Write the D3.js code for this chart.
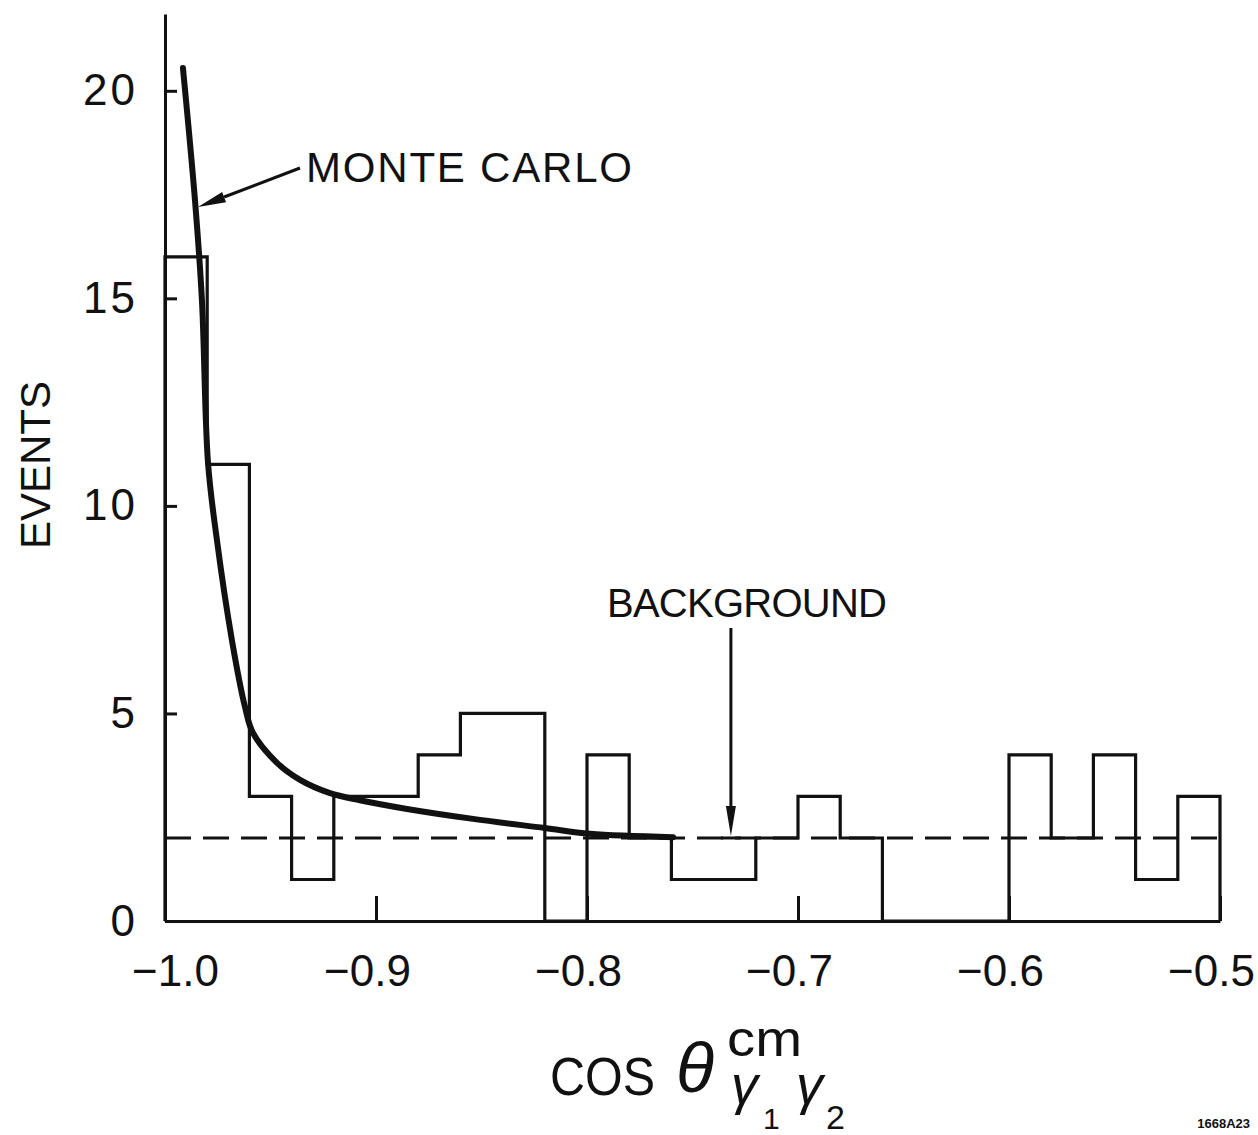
<!DOCTYPE html>
<html>
<head>
<meta charset="utf-8">
<script src="https://cdn.jsdelivr.net/npm/d3@7"></script>
<style>
  html, body { margin: 0; padding: 0; background: #fff; }
  svg { display: block; }
  text { font-family: "Liberation Sans", "DejaVu Sans", sans-serif; fill: #111; }
</style>
</head>
<body>
<svg id="chart" width="1258" height="1135"></svg>
<script>
// ---------------- data ----------------
const binLow = [-1.00, -0.98, -0.96, -0.94, -0.92, -0.90, -0.88, -0.86, -0.84, -0.82,
                -0.80, -0.78, -0.76, -0.74, -0.72, -0.70, -0.68, -0.66, -0.64, -0.62,
                -0.60, -0.58, -0.56, -0.54, -0.52];
const binHigh = [-0.98, -0.96, -0.94, -0.92, -0.90, -0.88, -0.86, -0.84, -0.82, -0.80,
                 -0.78, -0.76, -0.74, -0.72, -0.70, -0.68, -0.66, -0.64, -0.62, -0.60,
                 -0.58, -0.56, -0.54, -0.52, -0.50];
const events = [16, 11, 3, 1, 3, 3, 4, 5, 5, 0,
                4, 2, 1, 1, 2, 3, 2, 0, 0, 0,
                4, 2, 4, 1, 3];

const mcX = [-0.9915, -0.9858, -0.9825, -0.9796, -0.9754, -0.9683, -0.9621, -0.9583,
             -0.9469, -0.9360, -0.9218, -0.9076, -0.8853, -0.8540, -0.8200, -0.7986, -0.7592];
const mcY = [20.55, 17.37, 14.96, 11.03, 9.18, 6.77, 5.16, 4.53,
             3.81, 3.40, 3.08, 2.91, 2.70, 2.46, 2.24, 2.10, 2.02];

const bgX = [-1.0, -0.5];
const bgY = [2, 2];

const xTicks = [-1.0, -0.9, -0.8, -0.7, -0.6, -0.5];
const xTickLabels = ["\u22121.0", "\u22120.9", "\u22120.8", "\u22120.7", "\u22120.6", "\u22120.5"];
const yTicks = [0, 5, 10, 15, 20];
const yTickLabels = ["0", "5", "10", "15", "20"];

const yLabel = "EVENTS";
const mcLabel = "MONTE CARLO";
const bgLabel = "BACKGROUND";
const mcArrowAt = [-0.9858, 17.2];
const bgArrowAt = [-0.7318, 2];
const figId = "1668A23";

// ---------------- scales ----------------
const svg = d3.select("#chart");
const x = d3.scaleLinear().domain([-1.0, -0.5]).range([165, 1220]);
const y = d3.scaleLinear().domain([0, 21.85]).range([921, 14]);

const ink = "#111";

// ---------------- axes ----------------
const yAxis = d3.axisLeft(y)
  .tickValues(yTicks)
  .tickSizeInner(-12)
  .tickSizeOuter(0)
  .tickPadding(27)
  .tickFormat((d, i) => yTickLabels[i]);
const gy = svg.append("g").attr("transform", `translate(${x(-1.0)},0)`).call(yAxis);
gy.select(".domain").attr("stroke", ink).attr("stroke-width", 3);
gy.selectAll(".tick line").attr("stroke", ink).attr("stroke-width", 3);
gy.selectAll(".tick text").attr("font-size", 44).attr("fill", ink)
  .attr("letter-spacing", 3)
  .attr("font-family", "Liberation Sans, sans-serif");

const xAxis = d3.axisBottom(x)
  .tickValues(xTicks)
  .tickSizeInner(-25)
  .tickSizeOuter(0)
  .tickPadding(34)
  .tickFormat((d, i) => xTickLabels[i]);
const gx = svg.append("g").attr("transform", `translate(0,${y(0)})`).call(xAxis);
gx.select(".domain").attr("stroke", ink).attr("stroke-width", 3);
gx.selectAll(".tick line").attr("stroke", ink).attr("stroke-width", 3);
gx.selectAll(".tick text").attr("font-size", 44).attr("fill", ink)
  .attr("font-family", "Liberation Sans, sans-serif")
  .attr("dx", (d, i) => i === 0 ? 10 : -9);

// ---------------- histogram ----------------
const stepPts = [[binLow[0], 0]];
events.forEach((v, i) => {
  stepPts.push([binLow[i], v]);
  stepPts.push([binHigh[i], v]);
});
stepPts.push([binHigh[binHigh.length - 1], 0]);
const lineGen = d3.line().x(d => x(d[0])).y(d => y(d[1]));
svg.append("path")
  .attr("d", lineGen(stepPts))
  .attr("fill", "none")
  .attr("stroke", ink)
  .attr("stroke-width", 3.2)
  .attr("stroke-linejoin", "miter");

// ---------------- background (dashed) ----------------
svg.append("path")
  .attr("d", lineGen(bgX.map((v, i) => [v, bgY[i]])))
  .attr("fill", "none")
  .attr("stroke", ink)
  .attr("stroke-width", 3)
  .attr("stroke-dasharray", "26,12");

// ---------------- Monte Carlo curve ----------------
const curveGen = d3.line().x(d => x(d[0])).y(d => y(d[1])).curve(d3.curveCatmullRom.alpha(0.5));
svg.append("path")
  .attr("d", curveGen(mcX.map((v, i) => [v, mcY[i]])))
  .attr("fill", "none")
  .attr("stroke", ink)
  .attr("stroke-width", 6)
  .attr("stroke-linecap", "round");

// ---------------- annotations ----------------
function arrow(x1, y1, x2, y2, headLen, headW) {
  const ang = Math.atan2(y2 - y1, x2 - x1);
  const bx = x2 - headLen * Math.cos(ang), by = y2 - headLen * Math.sin(ang);
  svg.append("line").attr("x1", x1).attr("y1", y1).attr("x2", bx).attr("y2", by)
    .attr("stroke", ink).attr("stroke-width", 3);
  const px = -Math.sin(ang) * headW / 2, py = Math.cos(ang) * headW / 2;
  svg.append("path")
    .attr("d", `M${x2},${y2}L${bx + px},${by + py}L${bx - px},${by - py}Z`)
    .attr("fill", ink);
}

// Monte Carlo label + arrow
svg.append("text").attr("x", 306).attr("y", 182).attr("font-size", 42)
  .attr("textLength", 326).attr("lengthAdjust", "spacing").text(mcLabel);
arrow(300, 168, x(mcArrowAt[0]) + 3, y(mcArrowAt[1]), 28, 11);

// Background label + arrow
svg.append("text").attr("x", 607).attr("y", 617).attr("font-size", 40)
  .attr("textLength", 280).attr("lengthAdjust", "spacing").text(bgLabel);
arrow(x(bgArrowAt[0]), 628, x(bgArrowAt[0]), y(bgArrowAt[1]) - 2, 30, 10);
svg.append("line")
  .attr("x1", x(bgArrowAt[0]) - 10).attr("x2", x(bgArrowAt[0]) + 10)
  .attr("y1", y(bgArrowAt[1])).attr("y2", y(bgArrowAt[1]))
  .attr("stroke", ink).attr("stroke-width", 3);

// Y axis title
svg.append("text")
  .attr("transform", "translate(50,465) rotate(-90)")
  .attr("text-anchor", "middle")
  .attr("font-size", 42)
  .text(yLabel);

// X axis title: cos θ^{cm}_{γ1 γ2}
const xt = svg.append("g");
xt.append("text").attr("x", 550).attr("y", 1095).attr("font-size", 54)
  .attr("textLength", 105).attr("lengthAdjust", "spacingAndGlyphs").text("COS");
xt.append("text").attr("x", 676).attr("y", 1092).attr("font-size", 70)
  .attr("font-style", "italic").attr("font-family", "DejaVu Sans, sans-serif").text("\u03B8");
xt.append("text").attr("x", 727).attr("y", 1056).attr("font-size", 50)
  .attr("textLength", 75).attr("lengthAdjust", "spacingAndGlyphs").text("cm");
xt.append("text").attr("x", 731).attr("y", 1104).attr("font-size", 54)
  .attr("font-style", "italic").text("\u03B3");
xt.append("text").attr("x", 763).attr("y", 1129).attr("font-size", 30).text("1");
xt.append("text").attr("x", 796).attr("y", 1104).attr("font-size", 54)
  .attr("font-style", "italic").text("\u03B3");
xt.append("text").attr("x", 826).attr("y", 1129).attr("font-size", 34).text("2");

// figure id
svg.append("text").attr("x", 1250).attr("y", 1128).attr("text-anchor", "end")
  .attr("font-size", 13).attr("font-weight", "bold").text(figId);
</script>
</body>
</html>
